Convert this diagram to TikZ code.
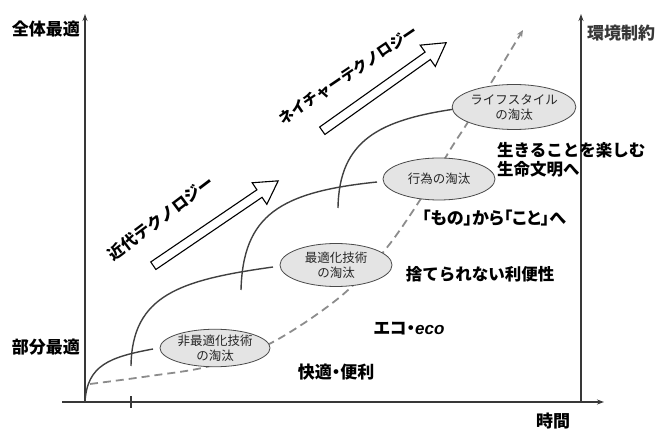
\documentclass[tikz,border=0pt]{standalone}
\usepackage{fontspec}
\setmainfont{Noto Sans CJK JP}
\newfontfamily\palt{Noto Sans CJK JP}[RawFeature=+palt]
\newfontfamily\latinfont{Liberation Sans}
\usetikzlibrary{shapes.geometric,shapes.arrows,arrows.meta}
\definecolor{axisc}{HTML}{383838}
\definecolor{linec}{HTML}{404040}
\definecolor{trendc}{HTML}{8C8C8C}
\definecolor{stagefill}{HTML}{E4E4E4}
\definecolor{stagedraw}{HTML}{4A4A4A}
\begin{document}
\begin{tikzpicture}[x=1pt,y=-1pt,
  axis/.style={draw=axisc, line width=1.8pt, -{Stealth[length=7pt,width=5pt]}},
  growth/.style={draw=linec, line width=1.4pt},
  trend/.style={draw=trendc, line width=1.8pt, dash pattern=on 8pt off 5pt, -{Stealth[length=7pt,width=6pt]}},
  stage/.style={ellipse, draw=stagedraw, fill=stagefill, line width=0.8pt, inner sep=0pt, align=center, text=black!85, font=\fontsize{12.5}{15}\selectfont},
  bigarrow/.style={single arrow, draw=black, fill=white, line width=1.1pt, single arrow tip angle=60, single arrow head extend=8.5pt, inner sep=4pt},
  lab/.style={font=\bfseries\fontsize{16.5}{19}\selectfont, inner sep=0pt},
  plab/.style={font=\palt\bfseries\fontsize{17}{19}\selectfont, inner sep=0pt},
  axlab/.style={font=\bfseries\fontsize{17}{19}\selectfont, inner sep=0pt}
]
\useasboundingbox (0,0) rectangle (657,430);
% axes
\coordinate (ybot) at (85,403);
\coordinate (ytop) at (85,14);
\coordinate (xl) at (62,402);
\coordinate (xr) at (604,402);
\coordinate (rbot) at (581,402);
\coordinate (rtop) at (581,14);
\coordinate (tickb) at (131,408);
\coordinate (tickt) at (131,396);
\draw[axis] (ybot) -- (ytop);
\draw[axis] (xl) -- (xr);
\draw[axis] (rbot) -- (rtop);
\draw[draw=axisc, line width=1.6pt] (tickb) -- (tickt);
% axis labels
\node[axlab] (top) at (46,29) {全体最適};
\node[axlab] (part) at (46,347) {部分最適};
\node[axlab] (time) at (553,421) {時間};
\node[axlab, text=axisc] (env) at (621,33) {環境制約};
% trend (dashed)
\draw[trend] plot[smooth, tension=0.55] coordinates {(90,384) (150,376) (210,366) (273,342) (340,297) (385,250) (422,197) (450,150) (468,122) (488,88) (523,30)};
% growth curves
\draw[growth] (85,402) .. controls (87,365) and (110,357) .. (153,349);
\draw[growth] (131,366) .. controls (132,295) and (180,280) .. (273,267);
\draw[growth] (241,290) .. controls (243,215) and (280,192) .. (377,182);
\draw[growth] (338,208) .. controls (339,140) and (380,120) .. (455,109);
% stages
\node[stage, minimum width=110pt, minimum height=37pt] (s1) at (215,348) {非最適化技術\\の淘汰};
\node[stage, minimum width=112pt, minimum height=43pt] (s2) at (336,265) {最適化技術\\の淘汰};
\node[stage, minimum width=112pt, minimum height=42pt] (s3) at (439,179) {行為の淘汰};
\node[stage, minimum width=112pt, minimum height=45pt] (s4) at (514,107) {ライフスタイル\\の淘汰};
% big arrows
\node[bigarrow, rotate=34.2, minimum height=151pt] (a1) at (212.5,225.5) {};
\node[bigarrow, rotate=35.4, minimum height=152pt] (a2) at (381,89) {};
\node[lab, rotate=37, font=\bfseries\fontsize{16}{18}\selectfont] (modern) at (161,218) {近代テクノロジー};
\node[lab, rotate=34, font=\bfseries\fontsize{15}{18}\selectfont] (nature) at (348,75) {ネイチャーテクノロジー};
% right texts
\node[lab, anchor=west, align=left] (life) at (497,160) {生きることを楽しむ\\生命文明へ};
\node[plab] (koto) at (494,218) {「もの」から「こと」へ};
\node[lab] (conv) at (480,274) {捨てられない利便性};
\node[plab] (eco) at (409,329) {エコ・{\latinfont\itshape eco}};
\node[plab] (comfort) at (336,372) {快適・便利};
\end{tikzpicture}
\end{document}
